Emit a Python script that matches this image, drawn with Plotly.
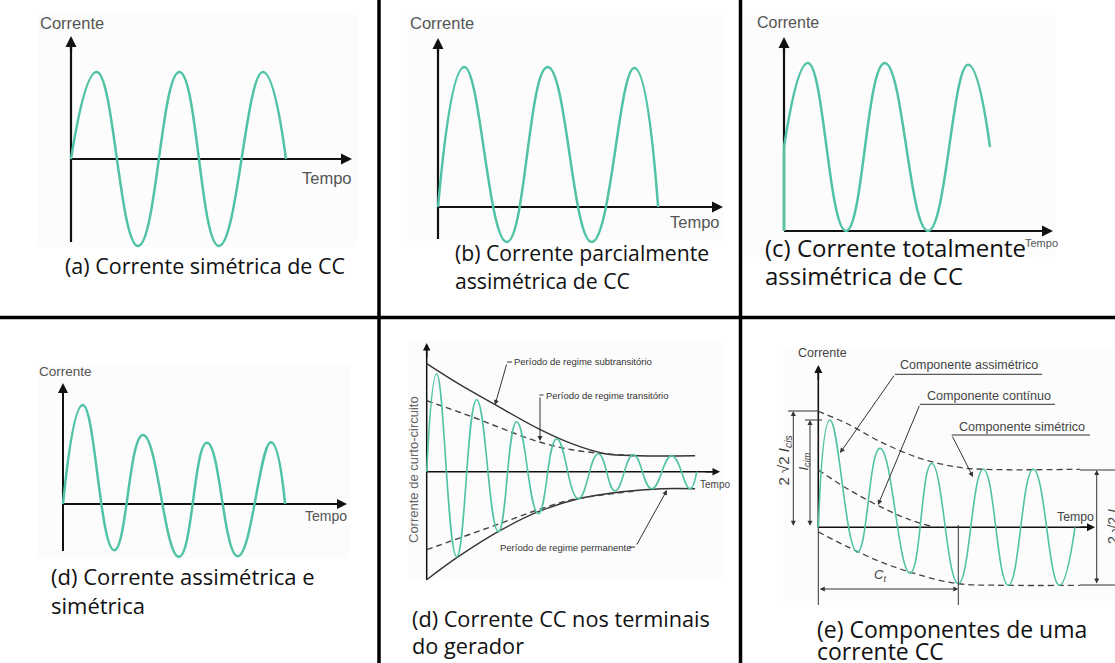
import plotly.graph_objects as go

W, H = 1115, 663

# ------------------------------------------------------------------ data
# time in cycles, current in p.u.
# (a) Corrente simétrica
a_t = [0, 0.30, 0.78, 1.26, 1.72, 2.23, 2.50]
a_i = [0, 1.00, -1.00, 1.00, -1.00, 1.00, 0]
# (b) Corrente parcialmente assimétrica
b_t = [0, 0.31, 0.81, 1.29, 1.81, 2.31, 2.59]
b_i = [0, 1.60, -0.40, 1.60, -0.40, 1.59, 0]
# (c) Corrente totalmente assimétrica
c_t0 = [0, 0]
c_i0 = [0, 1.0]
c_t = [0, 0.30, 0.775, 1.26, 1.80, 2.30, 2.575]
c_i = [1.0, 2.0, 0.0, 2.0, 0.0, 1.98, 1.0]
# (d) Corrente assimétrica e simétrica
d_t = [0, 0.31, 0.80, 1.25, 1.81, 2.25, 2.73, 3.25, 3.47]
d_i = [0, 1.65, -0.77, 1.15, -0.88, 1.02, -0.87, 1.03, 0]
# (d) Corrente CC nos terminais do gerador
e_t = [0, 0.25, 0.75, 1.25, 1.79, 2.25, 2.79, 3.25, 3.79, 4.29, 4.71, 5.165, 5.625, 6.125, 6.58, 6.75]
e_i = [0, 0.98, -0.85, 0.72, -0.60, 0.50, -0.42, 0.33, -0.27, 0.18, -0.19, 0.17, -0.17, 0.16, -0.17, 0]
e_sub_up_t = [0, 0.79, 1.71, 2.79, 3.625, 4.46, 5.29, 6.71]
e_sub_up_i = [1.08, 0.88, 0.67, 0.43, 0.28, 0.18, 0.16, 0.16]
e_sub_lo_t = [0, 0.79, 1.875, 2.79, 3.79, 4.875, 5.875, 6.71]
e_sub_lo_i = [-1.08, -0.85, -0.58, -0.40, -0.27, -0.20, -0.17, -0.17]
e_tr_t = [0, 1.125, 1.96, 2.79, 3.625, 4.46, 5.29]
e_tr_up_i = [0.71, 0.55, 0.42, 0.30, 0.22, 0.18, 0.16]
e_tr_lo_i = [-0.78, -0.62, -0.50, -0.38, -0.28, -0.23, -0.19]
# (e) Componentes de uma corrente CC
f_t = [0, 0.234, 0.78, 1.234, 1.834, 2.268, 2.80, 3.30, 3.80, 4.30, 4.82, 5.134]
f_i = [0, 1.85, -0.43, 1.36, -0.79, 1.10, -0.97, 1.00, -1.00, 1.00, -1.00, 0]
f_up_t = [0, 0.57, 1.23, 2.03, 2.77, 3.30, 5.23]
f_up_i = [2.00, 1.79, 1.48, 1.19, 1.04, 1.00, 1.00]
f_lo_t = [0, 0.57, 1.23, 1.90, 2.77, 3.70, 5.23]
f_lo_i = [-0.08, -0.33, -0.59, -0.79, -0.97, -1.00, -1.00]
f_dc_t = [0, 0.57, 1.23, 1.83, 2.30]
f_dc_i = [0.99, 0.67, 0.36, 0.13, 0.01]

captions = {
    "a": ["(a) Corrente simétrica de CC"],
    "b": ["(b) Corrente parcialmente", "assimétrica de CC"],
    "c": ["(c) Corrente totalmente", "assimétrica de CC"],
    "d": ["(d) Corrente assimétrica e", "simétrica"],
    "e": ["(d) Corrente CC nos terminais", "do gerador"],
    "f": ["(e) Componentes de uma", "corrente CC"],
}

# ------------------------------------------------------------------ layout geometry
# origin pixel of each panel and pixels per unit (x: cycle, y: p.u.)
PANELS = {
    1: dict(ox=71, oy=159, sx=86, sy=87),
    2: dict(ox=438, oy=207, sx=85, sy=87.5),
    3: dict(ox=784, oy=231, sx=80, sy=84),
    4: dict(ox=63, oy=504, sx=64, sy=60),
    5: dict(ox=426.7, oy=471.7, sx=40, sy=100),
    6: dict(ox=818.3, oy=527.3, sx=50, sy=58),
}

TEAL = "#50c2a5"
CAP = "Open Sans"
ARIAL = "Liberation Sans, Arial"

fig = go.Figure()
layout = dict(width=W, height=H, autosize=False, margin=dict(l=0, r=0, t=0, b=0, pad=0),
              paper_bgcolor="white", plot_bgcolor="rgba(0,0,0,0)", showlegend=False)
for n, p in PANELS.items():
    s = "" if n == 1 else str(n)
    layout["xaxis" + s] = dict(domain=[0, 1], range=[-p["ox"] / p["sx"], (W - p["ox"]) / p["sx"]],
                               visible=False, fixedrange=True, anchor="y" + s)
    layout["yaxis" + s] = dict(domain=[0, 1], range=[-(H - p["oy"]) / p["sy"], p["oy"] / p["sy"]],
                               visible=False, fixedrange=True, anchor="x" + s)
fig.update_layout(**layout)


def curve(n, t, i, color=TEAL, width=2.5, dash="solid", shape="spline", smooth=1.3):
    s = "" if n == 1 else str(n)
    fig.add_trace(go.Scatter(x=t, y=i, mode="lines", hoverinfo="skip",
                             line=dict(color=color, width=width, dash=dash, shape=shape, smoothing=smooth),
                             xaxis="x" + s, yaxis="y" + s))


shapes, anns = [], []


def X(xp):
    return xp / W


def Y(yp):
    return 1 - yp / H


def line(x0, y0, x1, y1, color="#111", width=1.0, dash="solid", layer="above"):
    shapes.append(dict(type="line", xref="paper", yref="paper", x0=X(x0), y0=Y(y0), x1=X(x1), y1=Y(y1),
                       line=dict(color=color, width=width, dash=dash), layer=layer))


def rect(x0, y0, x1, y1, fill):
    shapes.append(dict(type="rect", xref="paper", yref="paper", x0=X(x0), y0=Y(y0), x1=X(x1), y1=Y(y1),
                       fillcolor=fill, line=dict(width=0), layer="below"))


def arrow(hx, hy, tx, ty, color="#111", width=1.0, size=1.0, head=2, side="end"):
    anns.append(dict(x=X(hx), y=Y(hy), xref="paper", yref="paper", ax=tx - hx, ay=ty - hy,
                     axref="pixel", ayref="pixel", text="", showarrow=True, arrowhead=head,
                     startarrowhead=head, arrowside=side, arrowsize=size, startarrowsize=size,
                     arrowwidth=width, arrowcolor=color, standoff=0, startstandoff=0))


def text(xp, yp, s, size, color="#555", family=ARIAL, xanchor="center", angle=0):
    anns.append(dict(x=X(xp), y=Y(yp), xref="paper", yref="paper", text=s, showarrow=False,
                     font=dict(size=size, color=color, family=family), xanchor=xanchor,
                     yanchor="middle", textangle=angle))


def axes(ox, oy, ytop, ybot, xend, width, size):
    line(ox, ybot, ox, ytop + 4, "#111", width, layer="below")
    line(ox, oy, xend - 4, oy, "#111", width, layer="below")
    arrow(ox, ytop, ox, ytop + 16, "#111", width, size)
    arrow(xend, oy, xend - 16, oy, "#111", width, size)


# faint backgrounds of the source images
for r in [(38, 14, 358, 247), (407, 15, 725, 241), (743, 15, 1055, 257),
          (38, 365, 350, 558), (408, 341, 724, 578), (783, 348, 1115, 601)]:
    rect(*r, "#fcfcfc")

# ---------------- panel (a)
axes(71, 159, 36, 242, 352, 2.2, 1.0)
curve(1, a_t, a_i)
text(72.5, 23, "Corrente", 16.5)
text(300, 178, "Tempo", 16.5, xanchor="left")

# ---------------- panel (b)
axes(438, 207, 38, 239, 723, 2.2, 1.0)
curve(2, b_t, b_i)
text(441.5, 23, "Corrente", 16.5)
text(668, 222, "Tempo", 16.5, xanchor="left")

# ---------------- panel (c)
axes(784, 231, 37, 231, 1053, 2.2, 1.0)
curve(3, c_t0, c_i0, shape="linear")
curve(3, c_t, c_i)
text(787.5, 23, "Corrente", 16)
text(1023, 243, "Tempo", 11, xanchor="left")

# ---------------- panel (d)
axes(63, 504, 383, 551, 347, 2.0, 1.0)
curve(4, d_t, d_i)
text(65.5, 371, "Corrente", 13.5)
text(303, 516, "Tempo", 14, xanchor="left")

# ---------------- panel (e) generator
axes(426.7, 471.7, 343, 580, 720, 1.5, 1.0)
curve(5, e_sub_up_t, e_sub_up_i, color="#333", width=1.4, smooth=1.0)
curve(5, e_sub_lo_t, e_sub_lo_i, color="#333", width=1.4, smooth=1.0)
curve(5, e_tr_t, e_tr_up_i, color="#444", width=1.4, dash="6px,4px", smooth=1.0)
curve(5, e_tr_t, e_tr_lo_i, color="#444", width=1.4, dash="6px,4px", smooth=1.0)
curve(5, e_t, e_i, width=1.6)
text(413, 470, "Corrente de curto-circuito", 13, color="#666", angle=-90)
text(698, 485, "Tempo", 10, color="#444", xanchor="left")
text(512, 362, "Período de regime subtransitório", 9.5, color="#333", xanchor="left")
line(507, 362, 512, 362, "#333", 1)
arrow(495, 405, 507, 363, "#333", 1, 1)
text(543.5, 395, "Período de regime transitório", 9.5, color="#333", xanchor="left")
line(539.5, 395, 543.5, 395, "#333", 1)
arrow(540, 441, 540, 396, "#333", 1, 1)
text(498, 547, "Período de regime permanente", 9.5, color="#333", xanchor="left")
line(629, 547, 635, 547, "#333", 1)
arrow(667, 490, 636, 546, "#333", 1, 1)

# ---------------- panel (f) components
axes(818.3, 527.3, 365, 527.3, 1095, 1.6, 1.0)
line(818.3, 527.3, 818.3, 605, "#333", 1)
curve(6, f_up_t, f_up_i, color="#444", width=1.3, dash="6px,4px", smooth=1.0)
curve(6, f_dc_t, f_dc_i, color="#444", width=1.3, dash="6px,4px", smooth=1.0)
curve(6, f_lo_t, f_lo_i, color="#444", width=1.3, dash="6px,4px", smooth=1.0)
curve(6, f_t, f_i, width=1.6)
text(822, 353, "Corrente", 12.5, color="#444")
text(1055, 517, "Tempo", 12.3, color="#444", xanchor="left")
# labels with leaders
text(898, 365, "Componente assimétrico", 12.5, color="#444", xanchor="left")
line(895, 374.3, 1042, 374.3, "#333", 1)
arrow(840, 453, 895, 374.3, "#333", 1, 1)
text(925, 396, "Componente contínuo", 12.6, color="#444", xanchor="left")
line(920, 404.3, 1055, 404.3, "#333", 1)
arrow(878, 505, 920, 404.3, "#333", 1, 1)
text(956.7, 427, "Componente simétrico", 12.6, color="#444", xanchor="left")
line(951.7, 435, 1090, 435, "#333", 1)
arrow(973, 477, 951.7, 435, "#333", 1, 1)
# dimensions
line(788, 411, 818, 411, "#333", 1)
arrow(793.3, 411, 793.3, 527.3, "#333", 1, 1, side="end+start")
line(805, 420, 822, 420, "#333", 1)
arrow(810, 420, 810, 527.3, "#333", 1, 1, side="end+start")
line(1080, 470, 1115, 470, "#333", 1)
line(1080, 585, 1115, 585, "#333", 1)
arrow(1096.7, 470, 1096.7, 585, "#333", 1, 1, side="end+start")
line(958.3, 525, 958.3, 605, "#333", 1)
arrow(958.3, 589, 818.3, 589, "#333", 1, 1, side="end+start")
text(783.5, 460, "2 √2 <i>I</i><sub><i>cis</i></sub>", 15, color="#444", angle=-90)
text(803.5, 461, "<i>I</i><sub><i>cim</i></sub>", 13, color="#444", angle=-90)
text(1114, 522, "2 √2 <i>I</i><sub><i>cs</i></sub>", 14, color="#444", angle=-90)
text(880, 575, "<i>C</i><sub><i>t</i></sub>", 13, color="#444")

# ---------------- captions
cap_pos = {"a": (62.7, [265], 21.5), "b": (453, [253, 280], 21.2), "c": (763, [247, 275], 24.0),
           "d": (49, [576, 605], 22.0), "e": (410, [618, 645], 21.7), "f": (815, [629, 651], 23.0)}
for k, lines_ in captions.items():
    x0, ys, sz = cap_pos[k]
    for s, yy in zip(lines_, ys):
        text(x0, yy, s, sz, color="#111", family=CAP, xanchor="left")

# ---------------- separators
line(379, 0, 379, H, "black", 3.5)
line(740.5, 0, 740.5, H, "black", 3.5)
line(0, 317.5, W, 317.5, "black", 3.5)

fig.update_layout(shapes=shapes, annotations=anns)
fig.write_html("out.html")
